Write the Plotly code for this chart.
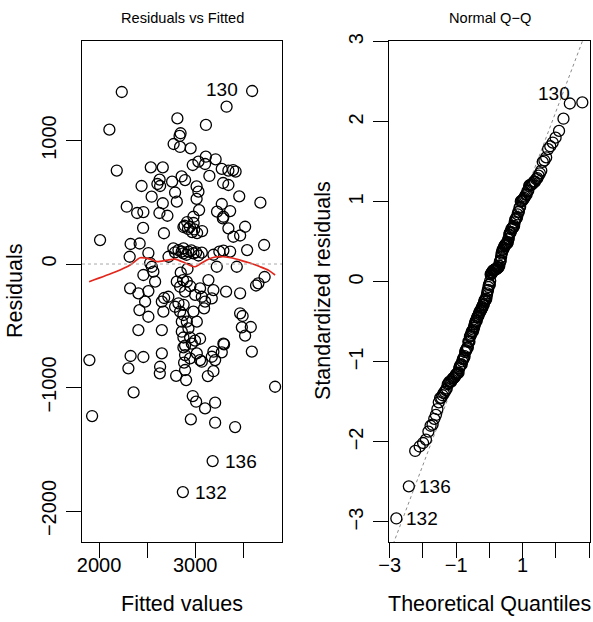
import math
from statistics import NormalDist
import plotly.graph_objects as go

# ---- data ----
fitted = [
    2236, 3593, 3327, 2815, 3112, 2107, 2848, 2838, 2776, 2843,
    2953, 2184, 2538, 2663, 2975, 3034, 3111, 3213, 3103, 3277,
    3346, 3395, 3421, 2859, 2895, 3148, 2630, 2607, 2635, 2760,
    2442, 3015, 3291, 3346, 2547, 2791, 3034, 3015, 3459, 3679,
    2288, 2396, 2461, 2628, 2663, 2809, 3041, 3228, 3277, 3294,
    3364, 2711, 2982, 2458, 2675, 2010, 2328, 2422, 2878, 2926,
    2968, 2984, 3020, 3072, 2916, 3288, 3346, 3398, 3468, 3520,
    3718, 3541, 2318, 2513, 2773, 2826, 2878, 2930, 2982, 3034,
    3069, 2723, 3252, 3294, 3364, 2531, 2878, 2549, 2565, 3225,
    3433, 2461, 2583, 2809, 2843, 2874, 3138, 3723, 3658, 3634,
    2323, 2409, 2513, 3051, 3190, 3322, 3468, 2895, 2479, 2653,
    2721, 2826, 3069, 3173, 3103, 2669, 2420, 2513, 2843, 2982,
    3468, 3494, 2878, 2861, 2913, 3017, 2930, 2861, 3486, 3579,
    2409, 2653, 3520, 2878, 2947, 2999, 3051, 2965, 2895, 2895,
    3294, 3190, 3173, 3208, 3590, 3017, 3051, 2947, 2878, 1899,
    2328, 2461, 2305, 2653, 2635, 2632, 2802, 2885, 2895, 2906,
    3069, 3190, 3132, 3277, 3301, 3832, 2359, 1927, 2975, 3010,
    3103, 3208, 2955, 3208, 3416, 2677, 2913, 2791, 3093,
    2890, 2945, 2990, 2860, 2910, 2960, 3010, 2790, 2850, 2920,
    3000, 2880, 2950, 3190,
    3182, 2872,
]
residuals = [
    1393, 1401, 1274, 1179, 1126, 1088, 1059, 1037, 972, 948,
    937, 757, 783, 783, 802, 829, 869, 848, 810, 770,
    757, 761, 749, 709, 680, 713, 684, 648, 632, 667,
    632, 628, 656, 640, 545, 579, 586, 527, 548, 497,
    464, 413, 421, 413, 492, 505, 437, 424, 486, 383,
    429, 391, 383, 292, 249, 194, 162, 166, 300, 284,
    259, 332, 251, 267, 340, 370, 289, 221, 231, 302,
    154, 113, 59, 89, 127, 113, 127, 100, 87, 69,
    92, 59, 100, 109, 101, 8, 87, -22, -62, -22,
    -22, -89, -143, -143, -184, -130, -130, -105, -156, -174,
    -197, -237, -219, -197, -211, -224, -237, -224, -305, -305,
    -265, -318, -265, -278, -305, -386, -373, -427, -386, -386,
    -399, -421, -413, -467, -467, -467, -521, -548, -513, -510,
    -535, -535, -580, -595, -595, -620, -605, -645, -660, -737,
    -645, -710, -751, -778, -709, -723, -778, -764, -675, -778,
    -745, -753, -845, -723, -832, -885, -905, -799, -858, -940,
    -791, -868, -907, -715, -650, -994, -1039, -1231, -1069, -1115,
    -1169, -1123, -1258, -1285, -1320, -275, -143, -346, -359,
    310, 300, 280, 100, 75, 110, 95, 95, -70, -40,
    -250, -330, -180, 75,
    -1596, -1847,
]
# labelled observations: (position in the arrays, observation number)
label_index = [1, 193, 194]
label_text = ["130", "136", "132"]
label_side = ["left", "right", "right"]

# red smoother
smooth_x = [1896, 2167, 2323, 2427, 2531, 2604, 2708, 2791, 2874, 2947, 2999,
            3051, 3121, 3208, 3294, 3385, 3468, 3572, 3676, 3759, 3832]
smooth_y = [-143, -65, -8, 51, 40, 19, 32, 40, 16, -12, -22,
            0, 32, 57, 59, 49, 32, 8, -22, -49, -89]

fit_ticks = [2000, 2500, 3000, 3500]
fit_ticktext = ["2000", "", "3000", ""]
res_ticks = [-2000, -1000, 0, 1000]
res_ticktext = ["\u22122000", "\u22121000", "0", "1000"]
qx_ticks = [-3, -2, -1, 0, 1, 2, 3]
qx_ticktext = ["\u22123", "", "\u22121", "", "1", "", "3"]
qy_ticks = [-3, -2, -1, 0, 1, 2, 3]
qy_ticktext = ["\u22123", "\u22122", "\u22121", "0", "1", "2", "3"]

# ---- Q-Q computation from the residuals ----
n = len(residuals)
mean_r = sum(residuals) / n
s = math.sqrt(sum((r - mean_r) ** 2 for r in residuals) / (n - 1))
std_res = [r / s for r in residuals]
order = sorted(range(n), key=lambda i: std_res[i])
nd = NormalDist()
theo = [0.0] * n
for rank, i in enumerate(order):
    theo[i] = nd.inv_cdf((rank + 0.5) / n)


def quantile(vals, p):
    v = sorted(vals)
    h = (len(v) - 1) * p
    lo = math.floor(h)
    hi = min(lo + 1, len(v) - 1)
    return v[lo] + (h - lo) * (v[hi] - v[lo])


q1, q3 = quantile(std_res, 0.25), quantile(std_res, 0.75)
z1, z3 = nd.inv_cdf(0.25), nd.inv_cdf(0.75)
slope = (q3 - q1) / (z3 - z1)
intercept = q1 - slope * z1

W, H = 593, 622
FONT = "Liberation Sans, Arial, Helvetica, sans-serif"
TOP, BOTTOM = 41, 542
left_dom = [82 / W, 282 / W]
right_dom = [389 / W, 590 / W]
ydom = [1 - BOTTOM / H, 1 - TOP / H]
fit_range = [1822, 3904]
res_range = [-2251, 1806]
qx_range = [-3.02, 3.03]
qy_range = [-3.25, 3.01]

marker = dict(symbol="circle-open", size=11, color="black", line=dict(width=1.3, color="black"))

fig = go.Figure()
fig.add_trace(go.Scatter(x=fitted, y=residuals, mode="markers", marker=marker,
                         xaxis="x", yaxis="y", showlegend=False, hoverinfo="skip"))
fig.add_trace(go.Scatter(x=smooth_x, y=smooth_y, mode="lines",
                         line=dict(color="#E3261B", width=1.7, shape="spline", smoothing=0.6),
                         xaxis="x", yaxis="y", showlegend=False, hoverinfo="skip"))
fig.add_trace(go.Scatter(x=qx_range, y=[intercept + slope * qx_range[0], intercept + slope * qx_range[1]],
                         mode="lines", line=dict(color="#8a8a8a", width=1, dash="dot"),
                         xaxis="x2", yaxis="y2", showlegend=False, hoverinfo="skip"))
fig.add_trace(go.Scatter(x=theo, y=std_res, mode="markers", marker=marker,
                         xaxis="x2", yaxis="y2", showlegend=False, hoverinfo="skip"))

# zero reference line on residual panel
fig.add_shape(type="line", xref="x domain", yref="y", x0=0, x1=1, y0=0, y1=0,
              line=dict(color="#a8a8a8", width=1, dash="dot"))

ID_FONT = dict(size=19, family=FONT, color="black")
ann = []
for idx, txt, side in zip(label_index, label_text, label_side):
    anchor = "right" if side == "left" else "left"
    shift = -12 if side == "left" else 10
    ann.append(dict(x=fitted[idx], y=residuals[idx], xref="x", yref="y", text=txt,
                    showarrow=False, xanchor=anchor, xshift=shift, yshift=2 if side == "left" else 0,
                    font=ID_FONT))
    ann.append(dict(x=theo[idx], y=std_res[idx], xref="x2", yref="y2", text=txt,
                    showarrow=False, xanchor=anchor, xshift=-10 if side == "left" else 8,
                    yshift=9 if side == "left" else 0, font=ID_FONT))


def txt_ann(text, x, y, size, angle=0):
    return dict(text=text, x=x / W, y=1 - y / H, xref="paper", yref="paper", showarrow=False,
                xanchor="center", yanchor="middle", textangle=angle,
                font=dict(size=size, family=FONT, color="black"))


ann += [
    txt_ann("Residuals vs Fitted", 182, 18, 14.6),
    txt_ann("Normal Q\u2212Q", 489.5, 18, 14.6),
    txt_ann("Fitted values", 182, 604, 21.5),
    txt_ann("Theoretical Quantiles", 489.5, 604, 21.5),
    txt_ann("Residuals", 15, 291, 21.5, -90),
    txt_ann("Standardized residuals", 323, 291, 21.5, -90),
]

axis_common = dict(showgrid=False, zeroline=False, showline=True, linecolor="black", linewidth=1.3,
                   mirror=True, ticks="outside", ticklen=15, tickwidth=1.3, tickcolor="black",
                   automargin=False, tickfont=dict(size=20, family=FONT, color="black"))

fig.update_layout(
    width=W, height=H, margin=dict(l=0, r=0, t=0, b=0, autoexpand=False),
    paper_bgcolor="white", plot_bgcolor="white", showlegend=False,
    xaxis=dict(domain=left_dom, range=fit_range, anchor="y", tickmode="array",
               tickvals=fit_ticks, ticktext=fit_ticktext, ticklabelstandoff=-10, **axis_common),
    yaxis=dict(domain=ydom, range=res_range, anchor="x", tickmode="array",
               tickvals=res_ticks, ticktext=res_ticktext, tickangle=-90, ticklabelstandoff=2,
               **axis_common),
    xaxis2=dict(domain=right_dom, range=qx_range, anchor="y2", tickmode="array",
                tickvals=qx_ticks, ticktext=qx_ticktext, ticklabelstandoff=-10, **axis_common),
    yaxis2=dict(domain=ydom, range=qy_range, anchor="x2", tickmode="array",
                tickvals=qy_ticks, ticktext=qy_ticktext, tickangle=-90, ticklabelstandoff=2,
                **axis_common),
    annotations=ann,
)

fig.write_html(
    "out.html",
    config={"displayModeBar": False},
    post_script="document.body.style.margin='0';document.body.style.padding='0';"
                "document.documentElement.style.margin='0';",
)
